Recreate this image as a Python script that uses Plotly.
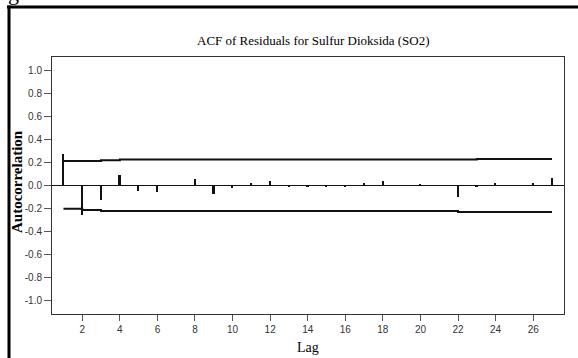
import plotly.graph_objects as go

# ---- data ----
lags = list(range(1, 28))
acf = [0.27, -0.255, -0.13, 0.093, -0.046, -0.06, 0.004, 0.055, -0.078, -0.023,
       0.026, 0.04, -0.017, -0.01, -0.01, -0.015, 0.02, 0.04, 0.003, 0.01,
       -0.003, -0.096, -0.015, 0.025, 0.003, 0.02, 0.068]
upper_limit = [0.214, 0.214, 0.220] + [0.226] * 19 + [0.231] * 5
lower_limit = [-0.203, -0.212] + [-0.221] * 19 + [-0.230] * 6
x_ticks = list(range(2, 28, 2))
y_ticks = [1.0, 0.8, 0.6, 0.4, 0.2, 0.0, -0.2, -0.4, -0.6, -0.8, -1.0]
title_text = "ACF of Residuals for Sulfur Dioksida (SO2)"
x_title = "Lag"
y_title = "Autocorrelation"

W, H = 578, 358
L, R, T, B = 52, 14, 57, 44
pw, ph = W - L - R, H - T - B


def px_x(p):
    return (p - L) / pw


def px_y(p):
    return (H - B - p) / ph


fig = go.Figure()
fig.add_trace(go.Bar(x=lags, y=acf, width=0.09,
                     marker=dict(color="#111111", line=dict(width=0)),
                     showlegend=False))
fig.add_trace(go.Scatter(x=lags, y=upper_limit, mode="lines",
                         line=dict(color="#111111", width=2, shape="hv"),
                         showlegend=False))
fig.add_trace(go.Scatter(x=lags, y=lower_limit, mode="lines",
                         line=dict(color="#111111", width=2, shape="hv"),
                         showlegend=False))

axis_font = dict(family="Liberation Sans Narrow, Arial Narrow, Liberation Sans, Arial",
                 size=10, color="#333333")
serif = "Liberation Serif, Times New Roman, serif"

fig.update_layout(
    width=W, height=H,
    margin=dict(l=L, r=R, t=T, b=B, pad=0),
    paper_bgcolor="white", plot_bgcolor="white",
    bargap=0,
    xaxis=dict(range=[0.39, 27.64], tickvals=x_ticks, ticks="outside", ticklen=6,
               tickcolor="#555555", tickwidth=1, showgrid=False, zeroline=False,
               showline=True, linecolor="#333333", linewidth=1, mirror=True,
               tickfont=axis_font, fixedrange=True),
    yaxis=dict(range=[-1.117, 1.117], tickvals=y_ticks,
               ticktext=[f"{v:.1f}" for v in y_ticks], ticks="outside", ticklen=7,
               tickcolor="#555555", tickwidth=1, showgrid=False,
               zeroline=True, zerolinecolor="#111111", zerolinewidth=1,
               showline=True, linecolor="#333333", linewidth=1, mirror=True,
               tickfont=axis_font, fixedrange=True),
    annotations=[
        dict(text=title_text, xref="paper", yref="paper", x=px_x(313), y=px_y(40),
             xanchor="center", yanchor="middle", showarrow=False,
             font=dict(family=serif, size=13, color="black")),
        dict(text=x_title, xref="paper", yref="paper", x=px_x(308), y=px_y(347),
             xanchor="center", yanchor="middle", showarrow=False,
             font=dict(family=serif, size=14, color="black")),
        dict(text="<b>" + y_title + "</b>", xref="paper", yref="paper", x=px_x(17),
             y=px_y(182), xanchor="center", yanchor="middle", textangle=-90,
             showarrow=False,
             font=dict(family=serif, size=15, color="black")),
        dict(text="g", xref="paper", yref="paper", x=px_x(13), y=px_y(-8),
             xanchor="center", yanchor="middle", showarrow=False,
             font=dict(family=serif, size=22, color="black")),
    ],
    shapes=[
        dict(type="line", xref="paper", yref="paper", x0=px_x(7), x1=px_x(580),
             y0=px_y(7), y1=px_y(7), line=dict(color="black", width=3)),
        dict(type="line", xref="paper", yref="paper", x0=px_x(9), x1=px_x(9),
             y0=px_y(5.5), y1=px_y(360), line=dict(color="black", width=3)),
    ],
)

fig.write_html("out.html")
